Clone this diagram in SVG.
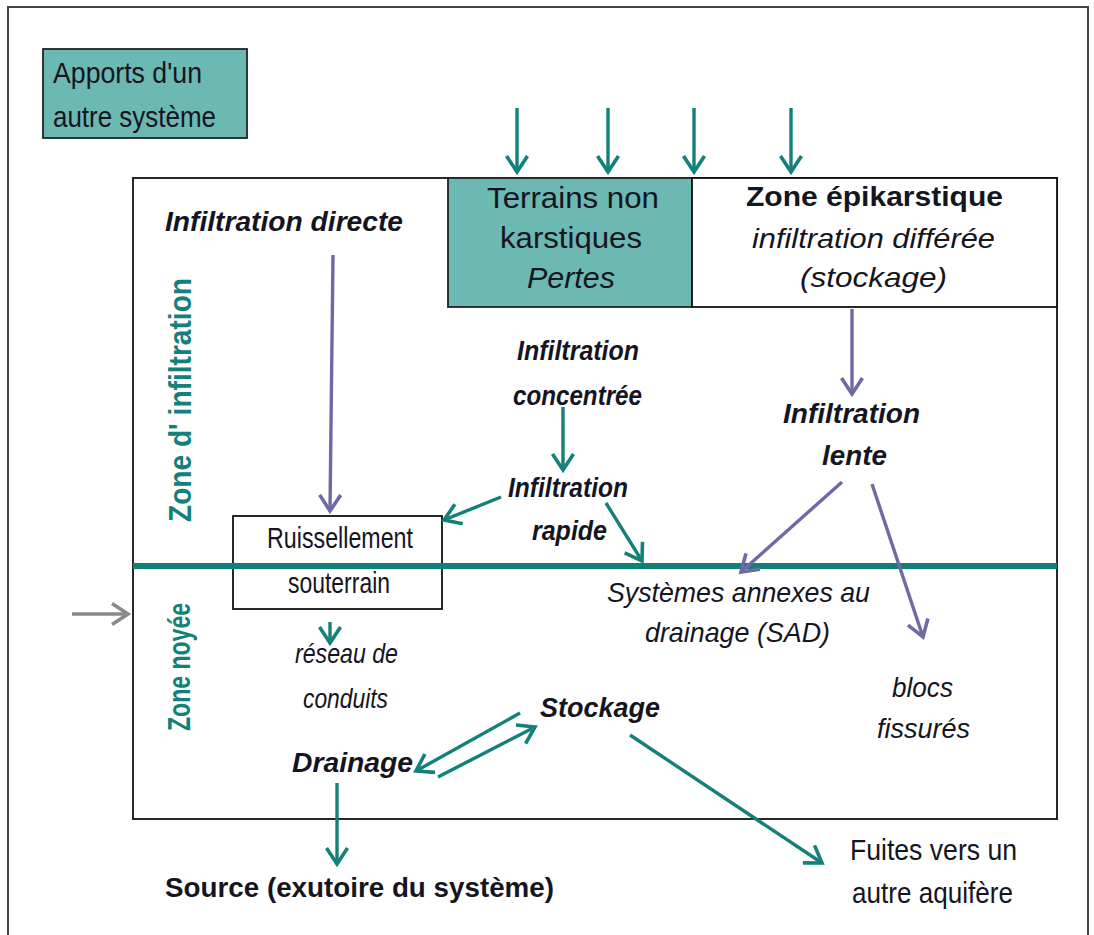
<svg xmlns="http://www.w3.org/2000/svg" width="1094" height="935" viewBox="0 0 1094 935">
<defs>
<marker id="ht" viewBox="0 0 24 24" markerWidth="24" markerHeight="24" refX="19" refY="12" orient="auto" markerUnits="userSpaceOnUse"><path d="M3,1.5 L19,12 L3,22.5" fill="none" stroke="#14807a" stroke-width="3.6"/></marker>
<marker id="hp" viewBox="0 0 24 24" markerWidth="24" markerHeight="24" refX="19" refY="12" orient="auto" markerUnits="userSpaceOnUse"><path d="M3,1.5 L19,12 L3,22.5" fill="none" stroke="#6e6aa6" stroke-width="3.6"/></marker>
<marker id="hg" viewBox="0 0 24 24" markerWidth="24" markerHeight="24" refX="19" refY="12" orient="auto" markerUnits="userSpaceOnUse"><path d="M3,1.5 L19,12 L3,22.5" fill="none" stroke="#8a8a8a" stroke-width="3.6"/></marker>
</defs>
<style>
text{font-family:"Liberation Sans",Arial,sans-serif;fill:#15151f}
.r{font-size:30px}
.i{font-size:28px;font-style:italic}
.bi{font-size:28px;font-style:italic;font-weight:bold}
.b{font-size:27px;font-weight:bold}
.z{font-size:32px;font-weight:bold;fill:#14807a}
.box{fill:#fff;stroke:#111;stroke-width:1.8}
.tbox{fill:#6cb8b3;stroke:#222;stroke-width:1.8}
.t{stroke:#14807a;stroke-width:3.4;fill:none;marker-end:url(#ht)}
.p{stroke:#6e6aa6;stroke-width:3.4;fill:none;marker-end:url(#hp)}
.g{stroke:#8a8a8a;stroke-width:3.4;fill:none;marker-end:url(#hg)}
</style>
<rect width="1094" height="935" fill="#fff"/>
<path d="M8,945 V7 H1088 V945" fill="none" stroke="#444" stroke-width="2"/>

<g id="main-frame">
<rect class="box" x="133" y="178" width="924" height="641"/>
</g>

<g id="apports">
<rect class="tbox" x="43" y="49" width="204" height="89"/>
<text class="r" x="53" y="83" textLength="149" lengthAdjust="spacingAndGlyphs">Apports d'un</text>
<text class="r" x="53" y="127" textLength="163" lengthAdjust="spacingAndGlyphs">autre système</text>
</g>

<g id="terrains">
<rect class="tbox" x="448" y="178" width="244" height="129"/>
<text class="r" x="487" y="208" textLength="172" lengthAdjust="spacingAndGlyphs">Terrains non</text>
<text class="r" x="500" y="248" textLength="142" lengthAdjust="spacingAndGlyphs">karstiques</text>
<text class="r" x="527" y="288" font-style="italic" textLength="88" lengthAdjust="spacingAndGlyphs">Pertes</text>
</g>

<g id="epikarst">
<rect class="box" x="692" y="178" width="365" height="129"/>
<text class="b" x="746" y="206" textLength="257" lengthAdjust="spacingAndGlyphs">Zone épikarstique</text>
<text class="i" x="752" y="248" textLength="243" lengthAdjust="spacingAndGlyphs">infiltration différée</text>
<text class="i" x="800" y="287" textLength="147" lengthAdjust="spacingAndGlyphs">(stockage)</text>
</g>

<g id="zone-labels">
<text class="z" transform="translate(191,522) rotate(-90)" textLength="244" lengthAdjust="spacingAndGlyphs">Zone d' infiltration</text>
<text class="z" transform="translate(190,731) rotate(-90)" textLength="128" lengthAdjust="spacingAndGlyphs">Zone noyée</text>
</g>

<g id="infiltration-directe">
<text class="bi" x="165" y="231" textLength="238" lengthAdjust="spacingAndGlyphs">Infiltration directe</text>
</g>

<g id="infiltration-concentree">
<text class="bi" x="517" y="360" textLength="122" lengthAdjust="spacingAndGlyphs">Infiltration</text>
<text class="bi" x="513" y="405" textLength="129" lengthAdjust="spacingAndGlyphs">concentrée</text>
</g>

<g id="infiltration-rapide">
<text class="bi" x="508" y="497" textLength="120" lengthAdjust="spacingAndGlyphs">Infiltration</text>
<text class="bi" x="532" y="540" textLength="75" lengthAdjust="spacingAndGlyphs">rapide</text>
</g>

<g id="infiltration-lente">
<text class="bi" x="783" y="423" textLength="137" lengthAdjust="spacingAndGlyphs">Infiltration</text>
<text class="bi" x="822" y="465" textLength="65" lengthAdjust="spacingAndGlyphs">lente</text>
</g>

<g id="ruissellement">
<rect class="box" x="233" y="516" width="209" height="93"/>
<text class="r" x="267" y="548" textLength="146" lengthAdjust="spacingAndGlyphs">Ruissellement</text>
<text class="r" x="288" y="593" textLength="102" lengthAdjust="spacingAndGlyphs">souterrain</text>
</g>

<g id="sad">
<text class="i" x="607" y="602" textLength="263" lengthAdjust="spacingAndGlyphs">Systèmes annexes au</text>
<text class="i" x="645" y="642" textLength="185" lengthAdjust="spacingAndGlyphs">drainage (SAD)</text>
</g>

<g id="reseau">
<text class="i" x="295" y="663" textLength="103" lengthAdjust="spacingAndGlyphs">réseau de</text>
<text class="i" x="303" y="708" textLength="85" lengthAdjust="spacingAndGlyphs">conduits</text>
</g>

<g id="blocs">
<text class="i" x="892" y="697" textLength="61" lengthAdjust="spacingAndGlyphs">blocs</text>
<text class="i" x="877" y="738" textLength="93" lengthAdjust="spacingAndGlyphs">fissurés</text>
</g>

<g id="stockage">
<text class="bi" x="540" y="717" textLength="120" lengthAdjust="spacingAndGlyphs">Stockage</text>
</g>

<g id="drainage">
<text class="bi" x="292" y="772" textLength="121" lengthAdjust="spacingAndGlyphs">Drainage</text>
</g>

<g id="source">
<text class="b" x="165" y="897" font-size="28" textLength="389" lengthAdjust="spacingAndGlyphs">Source (exutoire du système)</text>
</g>

<g id="fuites">
<text class="r" x="850" y="860" textLength="167" lengthAdjust="spacingAndGlyphs">Fuites vers un</text>
<text class="r" x="852" y="903" textLength="161" lengthAdjust="spacingAndGlyphs">autre aquifère</text>
</g>

<g id="connectors">
<line x1="133" y1="566" x2="1057" y2="566" stroke="#0f7f78" stroke-width="6"/>
<path class="t" d="M517,108 V172"/>
<path class="t" d="M608,108 V172"/>
<path class="t" d="M694,108 V172"/>
<path class="t" d="M791,108 V172"/>
<path class="p" d="M333,255 L330,511"/>
<path class="p" d="M852,309 V394"/>
<path class="t" d="M563,407 V470"/>
<path class="t" d="M501,497 L444,520"/>
<path class="t" d="M606,503 L642,561"/>
<path class="p" d="M842,482 L741,572"/>
<path class="p" d="M872,484 L923,637"/>
<path class="g" d="M72,614 H128"/>
<path class="t" d="M330,622 V643"/>
<path class="t" d="M520,713 L416,771"/>
<path class="t" d="M438,777 L535,727"/>
<path class="t" d="M337,783 V864"/>
<path class="t" d="M630,735 L822,863"/>
</g>
</svg>
